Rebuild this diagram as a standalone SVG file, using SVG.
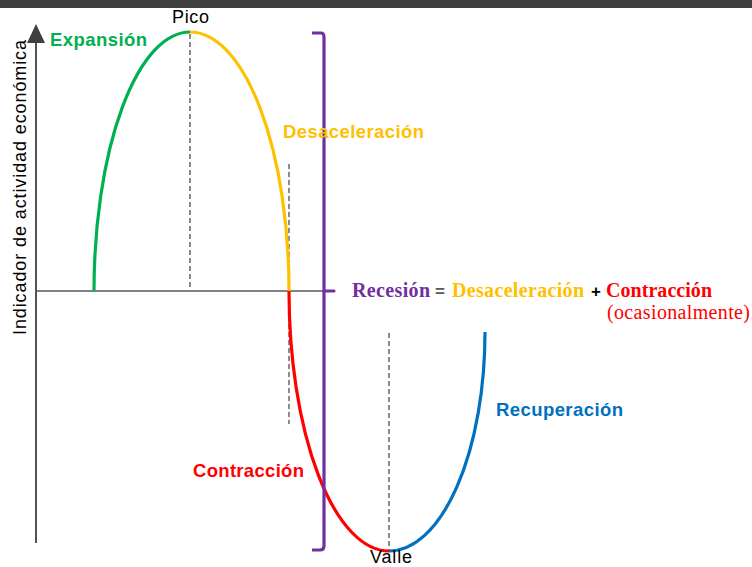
<svg xmlns="http://www.w3.org/2000/svg" width="752" height="567" viewBox="0 0 752 567">
<defs>
<style>
.sans{font-family:"Liberation Sans",Arial,sans-serif}
.lbl{font-family:"Liberation Sans",Arial,sans-serif;font-weight:bold;font-size:18.5px}
.ser{font-family:"Liberation Serif","Times New Roman",serif;font-size:20px}
.curve{fill:none;stroke-width:3.2}
.dash{fill:none;stroke:#404040;stroke-width:1.2;stroke-dasharray:5 3}
</style>
</defs>
<rect width="752" height="567" fill="#ffffff"/>
<rect x="0" y="0" width="752" height="8" fill="#404040"/>

<g id="axes">
<line x1="36" y1="40" x2="36" y2="543" stroke="#404040" stroke-width="1.8"/>
<polygon points="36,24 27,43 45,43" fill="#404040"/>
<line x1="36" y1="291" x2="324" y2="291" stroke="#595959" stroke-width="1.6"/>
</g>

<g id="connectors">
<line class="dash" x1="190" y1="34" x2="190" y2="289"/>
<line class="dash" x1="289" y1="164" x2="289" y2="424"/>
<line class="dash" x1="389" y1="333" x2="389" y2="550"/>
</g>

<g id="curves">
<path id="expansion-curve" class="curve" stroke="#00B050" d="M94,291 A96,259 0 0 1 190,32"/>
<path id="desaceleracion-curve" class="curve" stroke="#FFC000" d="M190,32 A99,259 0 0 1 289,291"/>
<path id="contraccion-curve" class="curve" stroke="#FF0000" d="M289,291 A100,260 0 0 0 389,551"/>
<path id="recuperacion-curve" class="curve" stroke="#0070C0" d="M389,551 A96,219 0 0 0 485,332"/>
</g>

<g id="bracket">
<path d="M312,33 L321,33 Q324,33 324,37 L324,546 Q324,550 320,550 L312,550" fill="none" stroke="#7030A0" stroke-width="3.2"/>
<path d="M324,291 L334,291" fill="none" stroke="#7030A0" stroke-width="3.2" stroke-linecap="round"/>
</g>

<g id="labels">
<text class="sans" x="172" y="23" font-size="18" textLength="37" fill="#000">Pico</text>
<text class="sans" x="370" y="563" font-size="18" textLength="42" fill="#000">Valle</text>
<text class="sans" transform="translate(26,335) rotate(-90)" font-size="18" textLength="295" fill="#000">Indicador de actividad económica</text>
<text class="lbl" x="50" y="46" textLength="97" fill="#00B050">Expansión</text>
<text class="lbl" x="283" y="138" textLength="141" fill="#FFC000">Desaceleración</text>
<text class="lbl" x="496" y="416" textLength="127" fill="#0070C0">Recuperación</text>
<text class="lbl" x="193" y="477" textLength="111" fill="#FF0000">Contracción</text>
</g>

<g id="recesion">
<text class="ser" x="352" y="297" font-weight="bold" textLength="78" fill="#7030A0">Recesión</text>
<text class="sans" x="435" y="297" font-size="17" font-weight="bold" fill="#595959">=</text>
<text class="ser" x="452" y="297" font-weight="bold" textLength="132" fill="#FFC000">Desaceleración</text>
<text class="sans" x="591" y="297" font-size="17" font-weight="bold" fill="#000">+</text>
<text class="ser" x="606" y="297" font-weight="bold" textLength="106" fill="#FF0000">Contracción</text>
<text class="ser" x="607" y="319" textLength="143" fill="#FF0000">(ocasionalmente)</text>
</g>
</svg>
